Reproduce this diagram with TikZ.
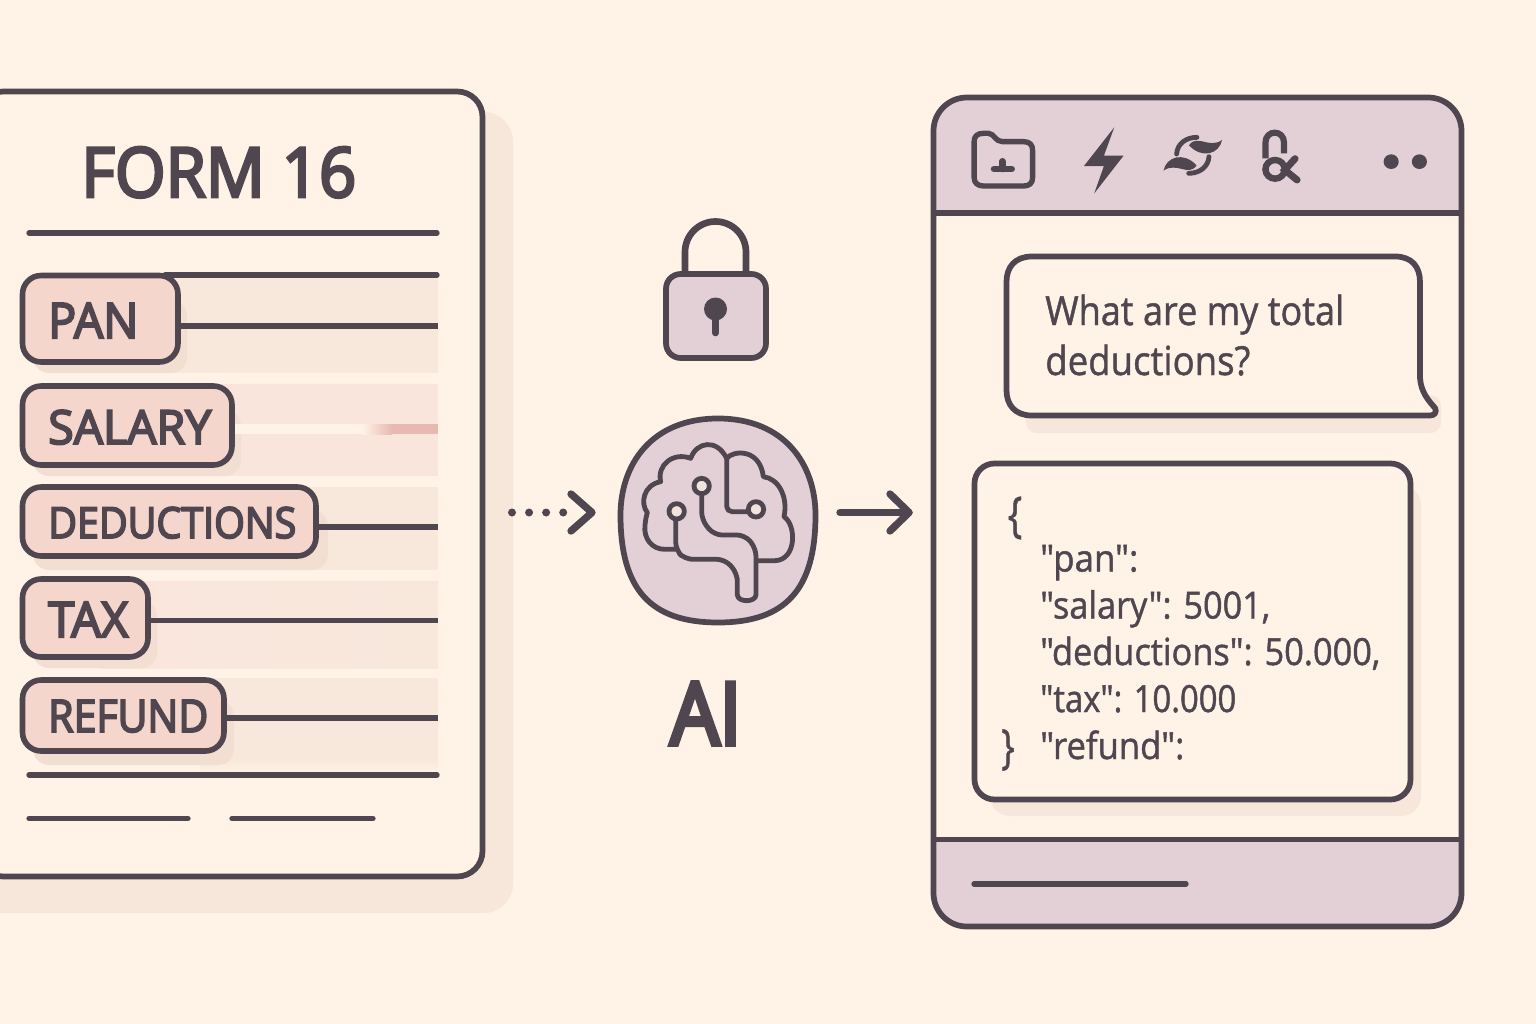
\documentclass[tikz,border=0pt]{standalone}
\usepackage{fontspec}
\usepackage{graphicx}
\usetikzlibrary{arrows.meta}
\setmainfont{Open Sans}
\newfontfamily\jsonf{Open Sans}
\definecolor{bg}{HTML}{FEF3E6}
\definecolor{ink}{HTML}{4F4650}
\definecolor{mauve}{HTML}{E3CFD6}
\definecolor{pillc}{HTML}{F5D6CD}
\definecolor{shad}{HTML}{F6E7DA}
\definecolor{pillshad}{HTML}{F2DFD1}
\definecolor{band}{HTML}{F8E8DC}
\definecolor{bandp}{HTML}{FAE5DC}
\definecolor{hole}{HTML}{F1E4DF}
\definecolor{flare}{HTML}{E8B9B2}
% fit a text to a width and height given in reference pixels
\newcommand{\fitpx}[3]{\resizebox{#1\dimexpr 0.75pt\relax}{#2\dimexpr 0.75pt\relax}{#3}}
% thicken a text by stroking its outline
\newcommand{\heavy}[2]{\special{pdf:code 2 Tr #1 w}#2\special{pdf:code 0 Tr}}
\tikzset{
 x=0.75pt,y=-0.75pt,
 strokeA/.style={draw=ink,line width=4.3pt,line join=round},
 ruleline/.style={draw=ink,line width=4pt,line cap=round},
 rowline/.style={draw=ink,line width=4.2pt},
 pillbox/.style={draw=ink,line width=4.2pt,fill=pillc,rounded corners=14pt,inner sep=0pt,outer sep=0pt},
 pilltext/.style={anchor=base west,inner sep=0pt,text=ink},
 chat/.style={anchor=base west,inner sep=0pt,text=ink,font=\fontsize{30}{30}\selectfont},
 json/.style={anchor=base west,inner sep=0pt,text=ink,font=\jsonf\fontsize{28}{30}\selectfont},
 icon/.style={draw=ink,line width=3.8pt,line cap=round,line join=round},
 brainline/.style={draw=ink,line width=3.6pt,line cap=round,line join=round},
}
\newcommand{\pillrow}[9]{%
 \node[pillbox,minimum width={(#4-#2)*0.75pt},minimum height={(#5-#3)*0.75pt}] (#1) at ({(#2+#4)/2},{(#3+#5)/2}) {};
 \node[pilltext] (#1text) at (48,#6) {\fitpx{#7}{#8}{\heavy{0.42}{#9}}};
}
\begin{document}
\begin{tikzpicture}
\useasboundingbox (0,0) rectangle (1536,1024);
\clip (0,0) rectangle (1536,1024);
\fill[bg] (0,0) rectangle (1536,1024);
% document
\fill[shad,rounded corners=22pt] (-30,112) rectangle (513,913);
\path[strokeA,fill=bg,rounded corners=19pt] (-22,91.5) rectangle (482.5,876.5);
\node[text=ink,inner sep=0pt,anchor=base west] (formtitle) at (81,197) {\fitpx{275}{50}{\heavy{0.42}{FORM 16}}};
\coordinate (t1) at (29,233); \coordinate (t2) at (437,233);
\draw[ruleline] (t1) -- (t2);
% bands
\fill[band] (100,278) rectangle (438,373);
\fill[bandp] (100,384) rectangle (438,476);
\fill[band] (100,487) rectangle (438,570);
\shade[left color=bandp,right color=band] (100,581) rectangle (438,668);
\fill[band] (100,678) rectangle (438,760);
\shade[top color=band,bottom color=bg] (200,760) rectangle (438,773);
% pill shadows
\fill[pillshad,rounded corners=12pt] (33,300) rectangle (187,373);
\fill[pillshad,rounded corners=12pt] (33,410) rectangle (241,476);
\fill[pillshad,rounded corners=12pt] (33,510) rectangle (328,570);
\fill[pillshad,rounded corners=12pt] (33,600) rectangle (157,668);
\fill[pillshad,rounded corners=12pt] (33,700) rectangle (234,765);
% salary highlight
\fill[bg] (230,424) rectangle (362,434);
\shade[left color=bg,right color=flare] (362,424) rectangle (392,434);
\fill[flare] (392,424) rectangle (438,434);
\coordinate (panTop) at (165,275); \coordinate (panTopEnd) at (437,275);
\draw[ruleline] (panTop) -- (panTopEnd);
\pillrow{Pan}{22.5}{275.5}{178}{362}{338}{90}{35}{PAN}
\pillrow{Salary}{22.5}{386}{232}{465}{444}{163}{34}{SALARY}
\pillrow{Deductions}{22.5}{487}{316}{556}{538}{248}{31}{DEDUCTIONS}
\pillrow{Tax}{22.5}{579}{148}{657}{637}{80}{35}{TAX}
\pillrow{Refund}{22.5}{680}{224}{751}{732}{160}{32}{REFUND}
\coordinate (panEnd) at (438,326); \coordinate (dedEnd) at (438,527);
\coordinate (taxEnd) at (438,620.5); \coordinate (refEnd) at (438,718);
\draw[rowline] (Pan.east |- panEnd) -- (panEnd);
\draw[rowline] (Deductions.east |- dedEnd) -- (dedEnd);
\draw[rowline] (Tax.east |- taxEnd) -- (taxEnd);
\draw[rowline] (Refund.east |- refEnd) -- (refEnd);
\draw[ruleline] (29,775) -- (437,775);
\draw[ruleline] (29,818.5) -- (188,818.5);
\draw[ruleline] (232,818.5) -- (373,818.5);
% padlock
\draw[icon,line width=5pt,line cap=butt] (685,274) -- (685,252) arc[start angle=180,end angle=360,radius=30.5] -- (746,274);
\draw[strokeA,fill=mauve,rounded corners=11pt] (666,274) rectangle (766,358);
\fill[ink] (715.5,309) circle[radius=11.5];
\draw[ink,line width=5pt,line cap=round] (715.5,312) -- (715.5,333);
% AI disc
\path[strokeA,fill=mauve] (718,418.5) .. controls (785,418.5) and (815.5,465) .. (815.5,515)
 .. controls (815.5,590) and (785,622.5) .. (718,622.5)
 .. controls (651,622.5) and (620.5,590) .. (620.5,515)
 .. controls (620.5,465) and (651,418.5) .. (718,418.5) -- cycle;
\begin{scope}[shift={(500,210)},x=0.25pt,y=-0.25pt]
 \draw[brainline] (527,1018) -- (495,1018) .. controls (455,1018) and (430,985) .. (435,945)
  .. controls (437,925) and (440,915) .. (442,908)
  .. controls (420,880) and (430,825) .. (482,815)
  .. controls (470,765) and (520,725) .. (572,745)
  .. controls (590,695) and (650,685) .. (680,745)
  .. controls (700,720) and (780,715) .. (790,800)
  .. controls (835,805) and (865,860) .. (852,920)
  .. controls (890,945) and (890,1050) .. (825,1052) -- (770,1052);
 \draw[brainline,rounded corners=4pt] (680,745) -- (680,905) -- (745,905);
 \draw[brainline,rounded corners=6pt] (605,850) -- (605,930) -- (642,975) -- (735,975) -- (768,1015) -- (768,1130)
  .. controls (768,1178) and (712,1178) .. (712,1130) -- (712,1090) -- (675,1048) -- (555,1048) -- (527,1020) -- (527,930);
 \draw[brainline,fill=hole] (605,828) circle[radius=23];
 \draw[brainline,fill=hole] (530,904) circle[radius=23];
 \draw[brainline,fill=hole] (768,898) circle[radius=23];
\end{scope}
\node[text=ink,inner sep=0pt,anchor=base west] (ailabel) at (670,744.5) {\fitpx{71}{62}{\heavy{0.55}{AI}}};
% arrows
\coordinate (dotS) at (512,512.5); \coordinate (dotE) at (592,512.5);
\draw[draw=ink,line width=6pt,line cap=round,dash pattern=on 0pt off 12.8pt] (dotS) -- (566,512.5);
\coordinate (c1) at (571,494); \coordinate (c2) at (571,531);
\draw[ink,line width=5.5pt,line cap=round,line join=round] (c1) -- (dotE) -- (c2);
\coordinate (arrS) at (840,512.5); \coordinate (arrE) at (909,512.5);
\draw[ink,line width=5.5pt,line cap=round] (arrS) -- (arrE);
\coordinate (c3) at (890,494); \coordinate (c4) at (890,531);
\draw[ink,line width=5.5pt,line cap=round,line join=round] (c3) -- (arrE) -- (c4);
% app
\path[fill=bg,rounded corners=25pt] (933.5,97.5) rectangle (1461.5,926.5);
\begin{scope}
 \clip[rounded corners=25pt] (933.5,97.5) rectangle (1461.5,926.5);
 \fill[mauve] (930,95) rectangle (1465,213);
 \fill[mauve] (930,839) rectangle (1465,930);
\end{scope}
\path[strokeA,rounded corners=25pt] (933.5,97.5) rectangle (1461.5,926.5);
\draw[strokeA] (933.5,213) -- (1461.5,213);
\draw[strokeA] (933.5,839.5) -- (1461.5,839.5);
\draw[ruleline] (974,884) -- (1186,884);
% header icons (drawn in the crop's coordinates)
\begin{scope}[shift={(930,90)},x=0.2583pt,y=-0.25pt]
 \draw[icon,line width=4pt] (128,155) .. controls (128,138) and (138,130) .. (155,130) -- (170,130) .. controls (185,130) and (190,155) .. (210,155)
  -- (272,155) .. controls (290,155) and (298,165) .. (298,182) -- (298,262) .. controls (298,280) and (288,288) .. (272,288)
  -- (155,288) .. controls (138,288) and (128,278) .. (128,262) -- cycle;
 \draw[ink,line width=5pt,line cap=round] (186,237) -- (237,237);
 \draw[ink,line width=5pt,line cap=round] (210,214) -- (210,237);
 \fill[ink] (535,112) -- (447,228) -- (505,228) -- (477,310) -- (562,197) -- (505,197) -- cycle;
 \foreach \r/\nm in {0/a,180/b}{
  \begin{scope}[rotate around={\r:(763,196)}]
   \draw[ink,line width=3.6pt,line cap=round] (716,192) .. controls (718,160) and (745,142) .. (775,142);
   \fill[ink] (752,166) .. controls (775,130) and (810,178) .. (848,150) .. controls (840,192) and (790,208) .. (752,166) -- cycle;
  \end{scope}
 }
 \draw[icon,line width=4.6pt,line cap=butt] (974,205) -- (974,158) .. controls (974,118) and (1028,118) .. (1028,158) -- (1028,190);
 \draw[ink,line width=4.8pt] (1002,238) circle[radius=28];
 \draw[ink,line width=5.2pt,line cap=round] (1060,206) -- (1030,240) -- (1066,270);
 \fill[ink] (1339,215) circle[radius=22];
 \fill[ink] (1421,215) circle[radius=22];
\end{scope}
% question bubble
\fill[shad,rounded corners=8pt] (1026,395) rectangle (1441,433);
\path[strokeA,fill=bg] (1032,256.5) -- (1395,256.5) .. controls (1412,256.5) and (1420,267) .. (1420,282)
 -- (1420,378) .. controls (1421,392) and (1428,400) .. (1435,408) .. controls (1437,412) and (1435,415.5) .. (1430,415.5)
 -- (1032,415.5) .. controls (1015,415.5) and (1006.5,405) .. (1006.5,390) -- (1006.5,282)
 .. controls (1006.5,267) and (1015,256.5) .. (1032,256.5) -- cycle;
\node[chat] (q1) at (1045,325) {\resizebox{224.25pt}{\height}{\heavy{0.35}{What are my total}}};
\node[chat] (q2) at (1045,375) {\resizebox{153.75pt}{\height}{\heavy{0.35}{deductions?}}};
% JSON box
\fill[shad,rounded corners=15pt] (990,485) rectangle (1421,816);
\path[strokeA,fill=bg,rounded corners=15pt] (974.5,463.5) rectangle (1410.5,799.5);
\node[text=ink,inner sep=0pt] (openb) at (1015,518) {\resizebox*{11pt}{32pt}{\heavy{0.1}{\{}}};
\node[json] (j1) at (1040,571.5) {\resizebox{73.5pt}{\height}{\heavy{0.35}{"pan":}}};
\node[json] (j2) at (1040,618.5) {\resizebox{172.5pt}{\height}{\heavy{0.35}{"salary": 5001,}}};
\node[json] (j3) at (1040,665) {\resizebox{255pt}{\height}{\heavy{0.35}{"deductions": 50.000,}}};
\node[json] (j4) at (1040,712) {\resizebox{147pt}{\height}{\heavy{0.35}{"tax": 10.000}}};
\node[json] (j5) at (1040,759) {\resizebox{108pt}{\height}{\heavy{0.35}{"refund":}}};
\node[text=ink,inner sep=0pt] (closeb) at (1008,750) {\resizebox*{10pt}{31pt}{\heavy{0.1}{\}}}};
\end{tikzpicture}
\end{document}
